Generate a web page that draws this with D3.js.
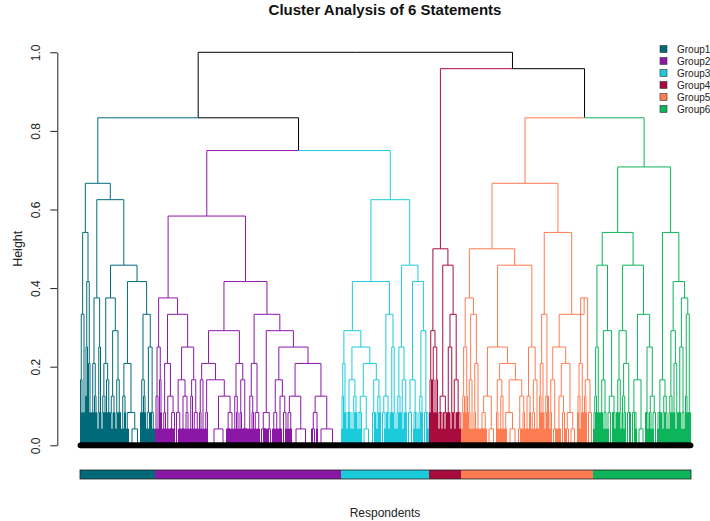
<!DOCTYPE html>
<html><head><meta charset="utf-8">
<script src="https://cdn.jsdelivr.net/npm/d3@7"></script>
<style>
body{margin:0;background:#fff;}
text{font-family:Arial,"Liberation Sans",Helvetica,sans-serif;}
</style>
</head><body>
<svg id="chart" width="710" height="521"></svg>
<script>
const groupNames = ["Group1","Group2","Group3","Group4","Group5","Group6"];
const groupColors = ["#00697a","#8a17a6","#1ccbdb","#a80c3e","#ff7b51","#0db45a"];
const heightTicks = [0, 0.2, 0.4, 0.6, 0.8, 1.0];
const heightUnits = 24; // merge heights are given in 24ths

// Each node: [height, left, right]; a plain number = a bundle of identical respondents
const group1Tree = [16,
  [13,
    [8, [4, 1, [2, 1, 1]], [2, 1, 1]],
    [10, [6, [3, 1, 1], 1], [5, 1, [2, 1, 1]]]],
  [15,
    [9, [5, [2, [2, 1, 1], 1], [3, 1, [2, 1, 1]]], [6, [2, [1, 1, 1], 1], 1]],
    [11,
      [9,
        [5, [3, [2, [1, 1, 1], 1], [2, 1, 1]], [4, 1, [2, [2, 1, 1], 1]]],
        [7, [3, [2, 1, [1, 1, 1]], [2, 1, 1]], [4, [2, [1, 1, 1], 1], [2, 1, [2, 1, 1]]]]],
      [10,
        [5, [3, [1, [1, 1, 1], 1], [2, 1, 1]], [2, [1, 1, [1, 1, 1]], [1, 6, 5]]],
        [8, [4, [2, [2, 1, 1], 1], [3, 1, [2, 1, 1]]], [6, [2, [1, 1, [1, 1, 1]], 1], [2, [2, 1, 1], [1, 1, [1, 1, 1]]]]]]]]];

const group2Tree = [14,
  [9,
    [6, [3, [1, 1, 1], [1, 1, 1]], [4, 1, [2, 1, 1]]],
    [8,
      [5, [2, [1, [1, 1, 1], 1], 1], [3, [1, [1, 1, 1], 1], [2, [1, [1, 1, [1, 1, 1]], [1, 1, 1]], 1]]],
      [6,
        [4, [2, 3, [1, [1, 1, 1], 1]], [3, [1, [1, 1, 1], [1, 1, 1]], [2, [1, 1, 1], [1, 1, 1]]]],
        [4, [3, [1, [1, 1, 1], 1], 1], [2, [1, 1, [1, 1, 1]], [1, 1, [1, 1, 1]]]]]]],
  [10,
    [7,
      [5,
        [4, [2, 1, [1, 1, 1]], [1, 1, 1]],
        [4, [2, [1, [1, 1, 1], 1], 1], [3, [1, 12, 6], [2, [1, [1, 1, 1], [1, 1, [1, 1, 1]]], [1, 1, 1]]]]],
      [5, [3, [1, [1, 1, 1], 1], [2, 1, [1, 1, 1]]], [4, [2, [1, 1, 1], 1], [1, [1, 1, [1, 1, 1]], [1, 1, [1, 1, 1]]]]]],
    [8,
      [5, [3, [1, [1, 1, 1], 1], [2, [1, 1, 1], 1]], [2, [1, 1, [1, 1, 1]], [1, [1, 1, 1], 1]]],
      [7,
        [2, [1, 3, [1, [1, 1, 1], [1, 1, 1]]], [1, [1, 1, 1], 3]],
        [6,
          [4, [2, [1, [1, 1, 1], 1], [1, [1, 1, 1], 1]], [3, [1, [1, 1, 1], [1, 1, 1]], [2, 3, [1, 1, 1]]]],
          [5,
            [3, [2, [1, 1, 1], [1, [1, 1, 1], 1]], [1, 8, 11]],
            [3, [2, [1, [1, 1, 1], 3], [1, 1, 1]], [1, 6, 17]]]]]]]];

const group3Tree = [15,
  [10,
    [7,
      [5, [3, [1, 1, 1], 1], [2, 1, 1]],
      [6,
        [4, [2, [2, [1, 1, 1], 1], [2, 1, [1, 1, 1]]], [3, [2, [1, 1, 1], 1], [2, 1, 1]]],
        [5, [3, [2, [2, [1, 1, 1], [1, 1, 1]], 1], [1, 4, 5]], [4, [2, 3, [2, 1, 1]], [3, [2, [1, 1, 1], 1], [2, 1, 1]]]]]],
    [8, [3, [2, 3, [1, 1, 1]], [2, [2, 1, 1], [1, 1, 1]]], [6, [2, [2, 1, 1], 1], [2, 1, [1, 1, 1]]]]],
  [11,
    [6, [3, [2, [1, 1, 1], 1], [2, 1, 1]], [4, [2, 1, [1, 1, 1]], [2, [2, 1, 1], 1]]],
    [10,
      [4, [2, 3, 3], [2, [1, 1, 1], [2, 1, [1, 1, 1]]]],
      [7, [3, [2, [1, 1, 1], 1], [2, 1, 1]], [2, 3, [2, 1, [1, 1, 1]]]]]]];

const group4Tree = [12,
  [7, [4, [2, 1, 1], 1], [6, [4, 1, [2, 1, 1]], [4, [2, 1, 1], 1]]],
  [11,
    [3, [2, [1, 1, 1], [2, 1, [1, 1, 1]]], [2, [2, 1, [1, 1, 1]], 1]],
    [8, [6, [2, 1, [2, 1, 1]], [2, [1, 1, 1], 1]], [4, [2, 1, [1, 1, 1]], [2, [2, 1, 1], [2, 1, [1, 1, 1]]]]]]];

const group5Tree = [16,
  [12,
    [9,
      [6, [3, [2, [1, 1, 1], 1], 1], [3, [2, 1, 1], 1]],
      [8, [4, [2, 1, [1, 1, 1]], [1, 1, 1]], [5, [2, [1, 1, 1], 1], [1, [1, 1, 1], [1, 1, 1]]]]],
    [11,
      [6,
        [3, [2, [1, [1, 1, 1], [1, 1, 1]], [1, 1, [1, 1, 1]]], [1, 4, 5]],
        [5,
          [4, [2, 1, [1, 1, 1]], [3, [1, [1, 1, 1], 1], [1, 1, 1]]],
          [4, [2, [1, [1, 1, 1], 1], [1, 6, 4]], [3, [1, 3, [1, 1, 1]], [2, [1, 1, 1], 1]]]]],
      [6, [3, [1, [1, 1, 1], [1, 1, 1]], [2, 1, 1]], [4, [2, [1, 1, [1, 1, 1]], 1], [1, [1, 1, 1], [1, 1, 1]]]]]],
  [13,
    [8, [5, [3, 1, [2, 1, 1]], [2, 1, 1]], [3, [2, [1, 1, 1], 1], [3, 1, 1]]],
    [8,
      [6,
        [4, [2, [1, 1, 1], 1], [1, 3, [1, 1, 1]]],
        [5, [3, [1, [1, 1, 1], [1, 1, 1]], [2, 3, 1]], [2, [1, [1, 1, 1], 3], [1, 2, 5]]]],
      [9, [5, [3, [2, 1, 1], [1, 1, 1]], [2, 1, [2, 1, 1]]], [4, [3, 1, [2, 1, 1]], [2, 3, 3]]]]]];

const group6Tree = [17,
  [13,
    [11,
      [6, [3, [2, [1, 1, 1], 1], 1], [2, 1, [2, 1, 1]]],
      [7, [4, [2, [2, 1, 1], 1], [2, [1, 1, 1], [1, 1, 1]]], [3, [2, [1, 1, 1], 3], [2, [2, 1, 1], [1, 1, 1]]]]],
    [11,
      [7, [4, [2, [2, 1, 1], 1], [2, 1, [1, 1, 1]]], [5, [3, 1, [2, [1, 1, 1], 1]], [2, 3, [2, 1, 1]]]],
      [8, [4, [2, 3, [2, 1, [1, 1, 1]]], [1, 4, 4]], [6, [2, [2, 1, 1], [1, 1, 1]], [3, [2, 1, [1, 1, 1]], [2, [1, 1, 1], 3]]]]]],
  [13,
    [4, [2, [2, [1, 1, 1], 1], [2, 1, 1]], [3, [2, [1, 1, 1], 1], [2, 1, [1, 1, 1]]]],
    [10,
      [7, [3, [2, [1, 1, 1], 1], [2, 1, 1]], [5, [2, 1, 1], [2, [1, 1, 1], 1]]],
      [9, [6, [2, [2, 1, 1], 1], [2, [1, 1, 1], [1, 1, 1]]], [8, [3, 1, [2, 1, 1]], [2, 1, [2, 1, 1]]]]]]];

const groupTrees = [group1Tree, group2Tree, group3Tree, group4Tree, group5Tree, group6Tree];
const upperTree = [24, [20, "Group1", [18, "Group2", "Group3"]], [23, "Group4", [20, "Group5", "Group6"]]];

function build(d, color, group) {
  if (typeof d === "string") {
    const g = groupNames.indexOf(d);
    return build(groupTrees[g], groupColors[g], g);
  }
  if (typeof d === "number") return {h: 0, count: d, color, group};
  return {h: d[0] / heightUnits, color, group,
          children: [build(d[1], color, group), build(d[2], color, group)]};
}

const root = d3.hierarchy(build(upperTree, "#000000", -1), d => d.children);
const leaves = root.leaves();
let pos = 0;
leaves.forEach(l => { l.start = pos; l.x = pos + l.data.count / 2; pos += l.data.count; });
const N = pos;
root.eachAfter(n => { if (n.children) n.x = d3.mean(n.children, c => c.x); });

const svg = d3.select("#chart");
svg.append("rect").attr("width", 710).attr("height", 521).attr("fill", "#fff");

const x = d3.scaleLinear().domain([0, N]).range([80, 691]);
const y = d3.scaleLinear().domain([0, 1]).range([445.3, 52.3]);

// dendrogram branches
svg.append("g").selectAll("path")
  .data(root.descendants().filter(n => n.parent))
  .join("path")
  .attr("d", n => `M${x(n.parent.x)},${y(n.parent.data.h)}H${x(n.x)}V${y(n.data.h)}`)
  .attr("fill", "none")
  .attr("stroke", n => n.data.color)
  .attr("stroke-width", 1);

// respondents (leaf points)
const respondents = [];
leaves.forEach(l => { for (let i = 0; i < l.data.count; i++) respondents.push({pos: l.start + i + 0.5, group: l.data.group}); });
svg.append("g").selectAll("circle").data(respondents).join("circle")
  .attr("cx", d => x(d.pos)).attr("cy", y(0)).attr("r", 2.9).attr("fill", "#000");

// colored bar
const groupSpans = groupNames.map((g, i) => {
  const m = respondents.filter(r => r.group === i);
  return {i, start: d3.min(m, r => r.pos) - 0.5, end: d3.max(m, r => r.pos) + 0.5};
});
svg.append("g").selectAll("rect").data(groupSpans).join("rect")
  .attr("x", d => x(d.start)).attr("width", d => x(d.end) - x(d.start))
  .attr("y", 470).attr("height", 9)
  .attr("fill", d => groupColors[d.i]);
svg.append("rect").attr("x", x(0)).attr("width", x(N) - x(0)).attr("y", 470).attr("height", 9)
  .attr("fill", "none").attr("stroke", "#222").attr("stroke-width", 0.8);

// y axis
const axis = svg.append("g").attr("transform", "translate(57.3,0)")
  .call(d3.axisLeft(y).tickValues(heightTicks).tickFormat(d3.format(".1f")).tickSize(7).tickSizeOuter(0));
axis.select(".domain").attr("stroke", "#222");
axis.selectAll(".tick line").attr("stroke", "#222");
axis.selectAll(".tick text")
  .attr("transform", "rotate(-90)").attr("x", 0).attr("y", -17).attr("dy", 0)
  .attr("text-anchor", "middle").attr("font-size", 12).attr("fill", "#222")
  .style("font-family", "Arial, 'Liberation Sans', sans-serif");

// titles
svg.append("text").attr("x", 385).attr("y", 15).attr("text-anchor", "middle")
  .attr("font-size", 15).attr("font-weight", "bold").attr("fill", "#111")
  .text("Cluster Analysis of 6 Statements");
svg.append("text").attr("x", 385).attr("y", 517).attr("text-anchor", "middle")
  .attr("font-size", 12).attr("fill", "#222").text("Respondents");
svg.append("text").attr("transform", "translate(22,248.8) rotate(-90)")
  .attr("text-anchor", "middle").attr("font-size", 12.5).attr("fill", "#222").text("Height");

// legend
const legend = svg.append("g").selectAll("g").data(groupNames).join("g")
  .attr("transform", (d, i) => `translate(660,${49 + i * 12})`);
legend.append("rect").attr("x", 0).attr("y", -3.5).attr("width", 7).attr("height", 7)
  .attr("fill", (d, i) => groupColors[i]).attr("stroke", "#333").attr("stroke-width", 0.6);
legend.append("text").attr("x", 17).attr("y", 3.6).attr("font-size", 10).attr("fill", "#222").text(d => d);
</script>
</body></html>
